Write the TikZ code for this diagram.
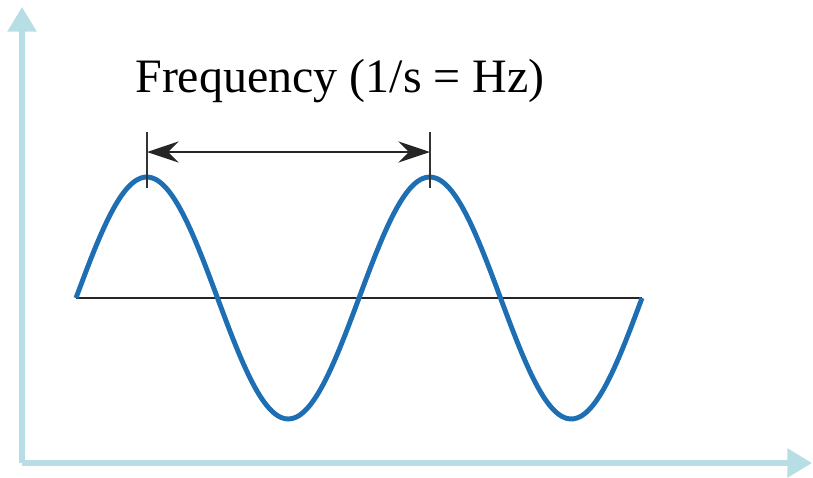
\documentclass[tikz,border=0pt]{standalone}
\usepackage{fontspec}
\setmainfont{Liberation Serif}
\usetikzlibrary{arrows.meta}
\definecolor{axisblue}{RGB}{183,222,228}
\definecolor{waveblue}{RGB}{30,110,180}

\begin{document}
\begin{tikzpicture}[x=0.02cm,y=-0.02cm,
    axis/.style={line width=3pt,axisblue,-{Triangle[length=14pt,width=16pt]}},
    wave/.style={line width=2.8pt,waveblue},
    tick/.style={gray!40!black,line width=0.7pt}]
    \useasboundingbox (0,0) rectangle (813,477);
    \coordinate (origin) at (22,463);
    \coordinate (ytop) at (22,7);
    \coordinate (xend) at (812,463);
    \draw[axis] (origin) -- (ytop);
    \draw[axis] (origin) -- (xend);
    \coordinate (mid0) at (76,298);
    \coordinate (mid1) at (642,298);
    \draw[gray!30!black,line width=1.1pt] (mid0) -- (mid1);
    \draw[wave] plot[domain=76:642,samples=150,smooth] (\x,{298-121*sin((\x-76)/283*360)});
    \coordinate (tickAtop) at (147,132);
    \coordinate (tickAbot) at (147,188);
    \coordinate (tickBtop) at (430,132);
    \coordinate (tickBbot) at (430,188);
    \draw[tick] (tickAtop) -- (tickAbot);
    \draw[tick] (tickBtop) -- (tickBbot);
    \coordinate (arrA) at (147,152);
    \coordinate (arrB) at (430,152);
    \draw[{Stealth[length=18pt,width=12pt,inset=6pt]}-{Stealth[length=18pt,width=12pt,inset=6pt]},line width=1.3pt,black!85] (arrA) -- (arrB);
    \node[font=\fontsize{27.3}{33}\selectfont,anchor=base] (title) at (340,92) {Frequency (1/s = Hz)};
  \end{tikzpicture}
\end{document}
